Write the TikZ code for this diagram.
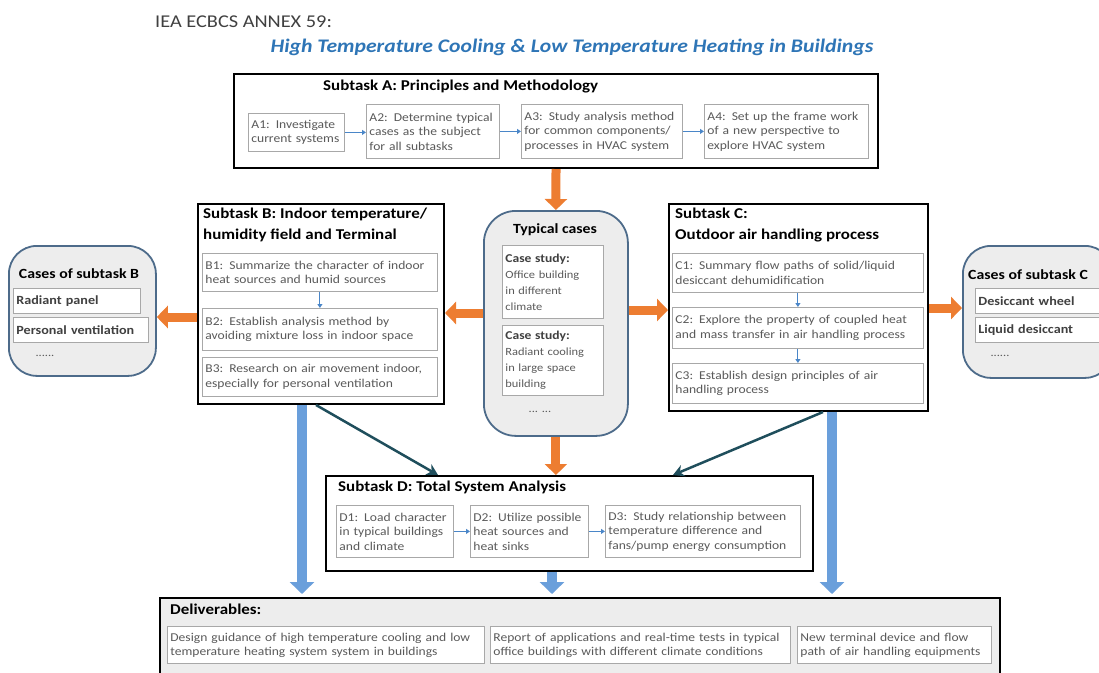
\documentclass[tikz,border=0pt]{standalone}
\usepackage{fontspec}
\setmainfont{Carlito}[FakeStretch=1.13]
\usetikzlibrary{arrows.meta}
\definecolor{orng}{HTML}{ED7D31}
\definecolor{barblue}{HTML}{6A9FDB}
\definecolor{tealc}{HTML}{1F4E5C}
\definecolor{sblue}{HTML}{4A86C8}
\definecolor{titleblue}{HTML}{2E75B6}
\definecolor{hdrgray}{HTML}{404040}
\definecolor{txtgray}{HTML}{5A5A5A}
\definecolor{boxgray}{HTML}{A8A8A8}
\definecolor{rbord}{HTML}{4D6B8A}
\definecolor{rfill}{HTML}{EDEDED}
\begin{document}
\begin{tikzpicture}[x=1pt,y=-1pt,
  big/.style={draw=black,line width=2pt,fill=white,anchor=north west,inner sep=0pt},
  rbox/.style={draw=rbord,line width=1.8pt,fill=rfill,anchor=north west,inner sep=0pt,rounded corners=#1},
  ibox/.style={draw=boxgray,line width=0.8pt,fill=white,anchor=north west,inner xsep=3pt,inner ysep=1pt,align=left,text=txtgray,font=\fontsize{12}{14.5}\selectfont},
  cbox/.style={draw=boxgray,line width=0.8pt,fill=white,anchor=north west,inner xsep=3pt,inner ysep=1pt,align=left,text=hdrgray,font=\bfseries\fontsize{12.5}{15}\selectfont},
  ttl/.style={anchor=north west,inner sep=0pt,align=left,font=\bfseries\fontsize{15}{21}\selectfont},
  dots/.style={inner sep=0pt,text=txtgray,font=\fontsize{11}{13}\selectfont},
  oarr/.style={draw=orng,line width=9pt,-{Triangle[width=22pt,length=11pt]}},
  barr/.style={draw=barblue,line width=10pt,-{Triangle[width=24pt,length=12pt]},shorten >=3pt},
  tarr/.style={draw=tealc,line width=2.5pt,-{Stealth[width=12pt,length=11pt]}},
  sarr/.style={draw=sblue,line width=1pt,-{Triangle[width=5pt,length=4pt]}}
]
\useasboundingbox (0,0) rectangle (1099,672);
% header
\node[anchor=west,inner sep=0pt,text=hdrgray,font=\fontsize{18}{21}\selectfont] (hdr) at (155,22) {IEA ECBCS ANNEX 59:};
\node[inner sep=0pt,text=titleblue,font=\bfseries\itshape\fontsize{19.2}{23}\selectfont] (maintitle) at (572,47) {High Temperature Cooling \& Low Temperature Heating in Buildings};

% Subtask A
\node[big,minimum width=644pt,minimum height=94pt] (A) at (233,73) {};
\node[ttl] (At) at (323,80) {Subtask A: Principles and Methodology};
\node[ibox,text width=90pt,minimum height=38pt] (A1) at (248,113) {A1: Investigate\\current systems};
\node[ibox,text width=127pt,minimum height=54pt] (A2) at (366,104) {A2: Determine typical\\cases as the subject\\for all subtasks};
\node[ibox,text width=155pt,minimum height=54pt] (A3) at (521,104) {A3: Study analysis method\\for common components/\\processes in HVAC system};
\node[ibox,text width=158pt,minimum height=54pt] (A4) at (704,104) {A4: Set up the frame work\\of a new perspective to\\explore HVAC system};
\draw[sarr] (A1.east) -- (A1.east -| A2.west);
\draw[sarr] (A2.east) -- (A2.east -| A3.west);
\draw[sarr] (A3.east) -- (A3.east -| A4.west);

% Typical cases
\node[rbox=32pt,minimum width=144pt,minimum height=225pt] (typ) at (483,210) {};
\node[inner sep=0pt,font=\bfseries\fontsize{14}{16}\selectfont] (typt) at (555,230) {Typical cases};
\node[ibox,text width=95pt,minimum height=73pt,font=\fontsize{11}{16}\selectfont] (ty1) at (502,245) {\textcolor{hdrgray}{\bfseries\fontsize{12}{16}\selectfont Case study:}\\Office building\\in different\\climate};
\node[ibox,text width=95pt,minimum height=70pt,font=\fontsize{11}{16}\selectfont] (ty2) at (502,325) {\textcolor{hdrgray}{\bfseries\fontsize{12}{16}\selectfont Case study:}\\Radiant cooling\\in large space\\building};
\node[dots] (tyd) at (540,412) {... ...};

% Subtask B
\node[big,minimum width=246pt,minimum height=200pt] (B) at (197,203) {};
\node[ttl] (Bt) at (203,208) {Subtask B: Indoor temperature/\\humidity field and Terminal};
\node[ibox,text width=229pt,minimum height=38pt] (B1) at (202,253) {B1: Summarize the character of indoor\\heat sources and humid sources};
\node[ibox,text width=229pt,minimum height=42pt] (B2) at (202,308) {B2: Establish analysis method by\\avoiding mixture loss in indoor space};
\node[ibox,text width=229pt,minimum height=39pt] (B3) at (202,357) {B3: Research on air movement indoor,\\especially for personal ventilation};
\draw[sarr] (B1.south) -- (B2.north);

% Subtask C
\node[big,minimum width=259pt,minimum height=207pt] (C) at (668,203) {};
\node[ttl] (Ct) at (675,208) {Subtask C:\\Outdoor air handling process};
\node[ibox,text width=245pt,minimum height=39pt] (C1) at (672,253) {C1: Summary flow paths of solid/liquid\\desiccant dehumidification};
\node[ibox,text width=245pt,minimum height=41pt] (C2) at (672,307) {C2: Explore the property of coupled heat\\and mass transfer in air handling process};
\node[ibox,text width=245pt,minimum height=40pt] (C3) at (672,363) {C3: Establish design principles of air\\handling process};
\draw[sarr] (C1.south) -- (C2.north);
\draw[sarr] (C2.south) -- (C3.north);

% Cases of subtask B
\node[rbox=28pt,minimum width=147pt,minimum height=130pt] (cB) at (8,245) {};
\node[inner sep=0pt,font=\bfseries\fontsize{14}{16}\selectfont] (cBt) at (79,274) {Cases of subtask B};
\node[cbox,text width=121pt,minimum height=25pt] (cB1) at (13,288) {Radiant panel};
\node[cbox,text width=129pt,minimum height=25pt] (cB2) at (13,317) {Personal ventilation};
\node[dots] (cBd) at (45,356) {......};

% Cases of subtask C
\node[rbox=28pt,minimum width=150pt,minimum height=132pt] (cC) at (962,245) {};
\node[anchor=west,inner sep=0pt,font=\bfseries\fontsize{14}{16}\selectfont] (cCt) at (968,275) {Cases of subtask C};
\node[cbox,text width=124pt,minimum height=25pt] (cC1) at (975,288) {Desiccant wheel};
\node[cbox,text width=124pt,minimum height=25pt] (cC2) at (975,317) {Liquid desiccant};
\node[dots] (cCd) at (1000,356) {......};

% Subtask D
\node[big,minimum width=487pt,minimum height=95pt] (D) at (325,475) {};
\node[ttl] (Dt) at (338,481) {Subtask D: Total System Analysis};
\node[ibox,text width=111pt,minimum height=52pt] (D1) at (336,505) {D1: Load character\\in typical buildings\\and climate};
\node[ibox,text width=112pt,minimum height=52pt] (D2) at (470,505) {D2: Utilize possible\\heat sources and\\heat sinks};
\node[ibox,text width=189pt,minimum height=52pt] (D3) at (605,505) {D3: Study relationship between\\temperature difference and\\fans/pump energy consumption};
\draw[sarr] (D1.east) -- (D1.east -| D2.west);
\draw[sarr] (D2.east) -- (D2.east -| D3.west);

% Deliverables
\node[big,fill=rfill,minimum width=840pt,minimum height=95pt] (Del) at (159,597) {};
\node[ttl] (Delt) at (170,604) {Deliverables:};
\node[ibox,text width=311pt,minimum height=37pt,font=\fontsize{12}{14}\selectfont] (Del1) at (167,626) {Design guidance of high temperature cooling and low\\temperature heating system system in buildings};
\node[ibox,text width=294pt,minimum height=37pt,font=\fontsize{12}{14}\selectfont] (Del2) at (490,626) {Report of applications and real-time tests in typical\\office buildings with different climate conditions};
\node[ibox,text width=188pt,minimum height=37pt,font=\fontsize{12}{14}\selectfont] (Del3) at (797,626) {New terminal device and flow\\path of air handling equipments};

% orange connectors
\coordinate (yl) at (0,313);
\coordinate (yl2) at (0,317);
\coordinate (yr) at (0,310);
\coordinate (yr2) at (0,308);
\draw[oarr] (A.south) -- (typ.north);
\draw[oarr] (typ.south) -- (typ.south |- D.north);
\draw[oarr] (typ.west |- yl) -- (B.east |- yl);
\draw[oarr] (B.west |- yl2) -- (cB.east |- yl2);
\draw[oarr] (typ.east |- yr) -- (C.west |- yr);
\draw[oarr] (C.east |- yr2) -- (cC.west |- yr2);

% teal connectors
\draw[tarr] ([xshift=-5pt]B.south) -- ([xshift=-131.5pt]D.north);
\draw[tarr] ([xshift=24.5pt]C.south) -- ([xshift=103.5pt]D.north);

% blue connectors
\coordinate (bx) at (302,0);
\coordinate (cx) at (832,0);
\coordinate (dx) at (552,0);
\draw[barr] (B.south -| bx) -- (Del.north -| bx);
\draw[barr] (C.south -| cx) -- (Del.north -| cx);
\draw[barr] (D.south -| dx) -- (Del.north -| dx);
\end{tikzpicture}
\end{document}
